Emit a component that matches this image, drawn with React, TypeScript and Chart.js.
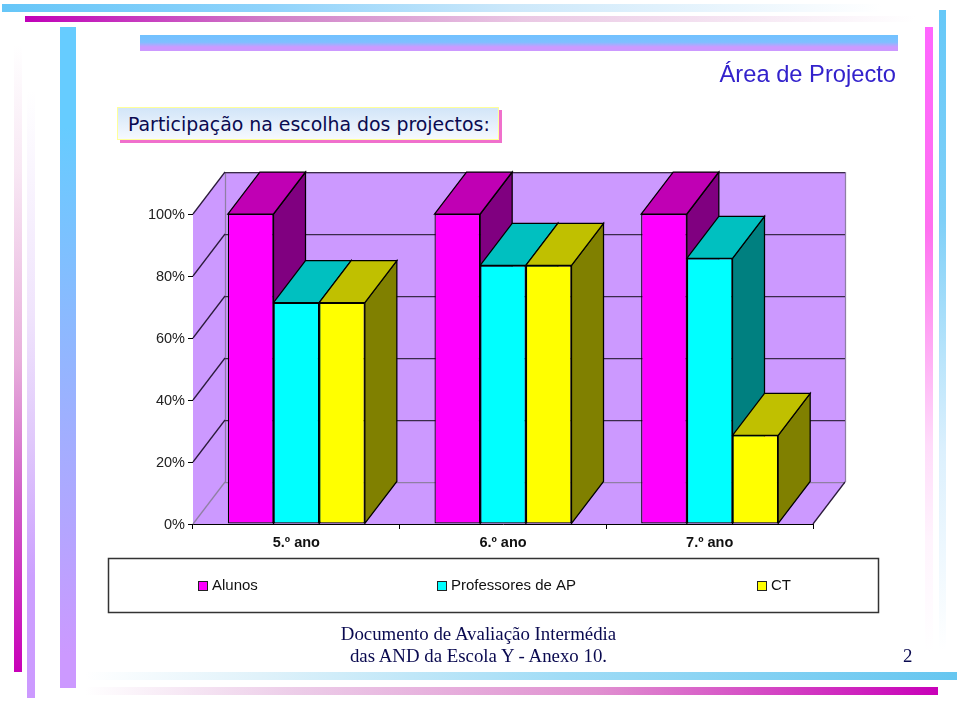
import React, { useEffect, useRef } from "react";
import { Chart, registerables } from "chart.js";

Chart.register(...registerables);

const categories = ["5.º ano", "6.º ano", "7.º ano"];
const alunos = [100, 100, 100];
const professores = [71.4, 83.4, 85.7];
const ct = [71.4, 83.4, 28.6];
const seriesNames = ["Alunos", "Professores de AP", "CT"];

const FRONT = ["#ff00ff", "#00ffff", "#ffff00"];
const TOP = ["#c000b4", "#00c0c0", "#c0c000"];
const SIDE = ["#800080", "#008080", "#808000"];
const LEGEND_X = [198, 437, 757];
const DX = 32;
const DY = 42;
const WALL = "#cc99ff";

const scene3d = {
  id: "scene3d",
  beforeDatasetsDraw(chart: any) {
    const { ctx, chartArea: a, scales } = chart;
    const y = scales.y;
    const poly = (pts: number[][], fill: string | null, stroke?: string) => {
      ctx.beginPath();
      pts.forEach((p, i) => (i ? ctx.lineTo(p[0], p[1]) : ctx.moveTo(p[0], p[1])));
      ctx.closePath();
      if (fill) { ctx.fillStyle = fill; ctx.fill(); }
      if (stroke) { ctx.strokeStyle = stroke; ctx.lineWidth = 1.25; ctx.stroke(); }
    };
    const line = (x0: number, y0: number, x1: number, y1: number, c: string) => {
      ctx.beginPath(); ctx.moveTo(x0, y0); ctx.lineTo(x1, y1);
      ctx.strokeStyle = c; ctx.lineWidth = 1.25; ctx.stroke();
    };
    ctx.save();
    const L = a.left, R = a.right, T = a.top, B = a.bottom;
    const edge = "#8f7fa3";
    poly([[L, B], [L + DX, B - DY], [R + DX, B - DY], [R, B]], WALL);
    poly([[L, B], [L, T], [L + DX, T - DY], [L + DX, B - DY]], WALL);
    poly([[L + DX, T - DY], [R + DX, T - DY], [R + DX, B - DY], [L + DX, B - DY]], WALL);
    line(L + DX + .5, T - DY + .5, R + DX + .5, T - DY + .5, edge);
    line(L + DX + .5, T - DY, L + DX + .5, B - DY, edge);
    line(R + DX + .5, T - DY, R + DX + .5, B - DY, edge);
    line(L + DX, B - DY + .5, R + DX, B - DY + .5, edge);
    line(L, B, L + DX, B - DY, edge);
    line(R, B, R + DX, B - DY, "#2a1a3a");
    y.ticks.forEach((t: any) => {
      if (t.value === 0) return;
      const py = Math.round(y.getPixelForValue(t.value));
      line(L, py, L + DX, py - DY, "#2a1a3a");
      line(L + DX, py - DY + .5, R + DX, py - DY + .5, "#3a2a4a");
    });
    const bars: any[] = [];
    chart.data.datasets.forEach((_: any, di: number) => {
      chart.getDatasetMeta(di).data.forEach((el: any) => bars.push({ el, di }));
    });
    bars.sort((p, q) => p.el.x - q.el.x);
    bars.forEach(({ el, di }) => {
      const l = el.x - el.width / 2, r = el.x + el.width / 2;
      const tp = el.y, bt = el.base;
      poly([[r, bt], [r, tp], [r + DX, tp - DY], [r + DX, bt - DY]], SIDE[di], "#000");
      poly([[l, tp], [r, tp], [r + DX, tp - DY], [l + DX, tp - DY]], TOP[di], "#000");
    });
    ctx.restore();
  },
  afterDraw(chart: any) {
    const { ctx } = chart;
    ctx.save();
    ctx.strokeStyle = "#333";
    ctx.lineWidth = 1.5;
    ctx.fillStyle = "#fff";
    ctx.fillRect(108.5, 558.5, 770, 54);
    ctx.strokeRect(108.5, 558.5, 770, 54);
    ctx.font = '15px "Liberation Sans"';
    ctx.textBaseline = "middle";
    chart.data.datasets.forEach((d: any, i: number) => {
      const x = LEGEND_X[i];
      ctx.fillStyle = d.backgroundColor;
      ctx.fillRect(x + .5, 581.5, 9, 9);
      ctx.strokeStyle = "#222";
      ctx.lineWidth = 1;
      ctx.strokeRect(x + .5, 581.5, 9, 9);
      ctx.fillStyle = "#111";
      ctx.fillText(d.label, x + 14, 586);
    });
    ctx.restore();
  },
};

const box = (s: React.CSSProperties): React.CSSProperties => ({ position: "absolute", ...s });

const decor: React.CSSProperties[] = [
  { left: 2, top: 4, width: 880, height: 8, background: "linear-gradient(90deg,#66c6f8,#8fd3fb 30%,#cce8fa 58%,#fff)" },
  { left: 25, top: 16, width: 890, height: 6, background: "linear-gradient(90deg,#c000b8,#d080c8 28%,#eac8e4 56%,#fff)" },
  { left: 140, top: 35, width: 758, height: 16, background: "linear-gradient(180deg,#70c2ff,#7fbfff 45%,#cc99ff 75%)" },
  { left: 60, top: 27, width: 16, height: 661, background: "linear-gradient(180deg,#66ccff 15%,#cc99ff 95%)" },
  { left: 14, top: 45, width: 8, height: 627, background: "linear-gradient(0deg,#c800b8,#d060c8 28%,#e8b0dc 50%,#f8e8f4 80%,#fff)" },
  { left: 27, top: 90, width: 8, height: 608, background: "linear-gradient(0deg,#cc99ff,#cca0ff 20%,#e0c8fb 42%,#f0e4fc 63%,#fff)" },
  { left: 925, top: 27, width: 8, height: 625, background: "linear-gradient(180deg,#ff66ff,#ff70f0 32%,#ffb0f5 53%,#ffdcfa 67%,#fff4fd 82%,#fff)" },
  { left: 939, top: 10, width: 7, height: 640, background: "linear-gradient(180deg,#66c8f8,#80d0f8 33%,#b8e4fb 54%,#dcf0fd 69%,#fff)" },
  { left: 85, top: 672, width: 872, height: 8, background: "linear-gradient(270deg,#66c6f0,#a0dcf6 45%,#e0f2fa 80%,#fff)" },
  { left: 85, top: 687, width: 853, height: 8, background: "linear-gradient(270deg,#c800b8,#e090d0 40%,#eccce8 75%,#fff)" },
];

export default function App() {
  const ref = useRef<HTMLCanvasElement>(null);
  useEffect(() => {
    const chart = new Chart(ref.current as HTMLCanvasElement, {
      type: "bar",
      data: {
        labels: categories,
        datasets: [alunos, professores, ct].map((v, i) => ({
          label: seriesNames[i],
          data: v,
          backgroundColor: FRONT[i],
          borderColor: "#000",
          borderWidth: 1.25,
          borderSkipped: false,
          categoryPercentage: 0.663,
          barPercentage: 1,
        })),
      },
      options: {
        animation: false,
        responsive: false,
        layout: { padding: { top: 214, left: 0, right: 147, bottom: 0 } },
        plugins: { legend: { display: false }, tooltip: { enabled: false }, title: { display: false } },
        scales: {
          x: {
            afterFit: (s: any) => { s.height = 178; },
            grid: { drawOnChartArea: false, offset: true, color: "#000", tickLength: 5 },
            border: { color: "#000" },
            ticks: { color: "#111", padding: 5, maxRotation: 0, font: { family: "Liberation Sans", size: 14.5, weight: "bold" } },
          },
          y: {
            min: 0,
            max: 100,
            afterFit: (s: any) => { s.width = 193; },
            grid: { drawOnChartArea: false, color: "#000", tickLength: 5 },
            border: { color: "#000" },
            ticks: { stepSize: 20, color: "#222", padding: 3, labelOffset: 1, font: { family: "Liberation Sans", size: 14.5 }, callback: (v: any) => v + "%" },
          },
        },
      } as any,
      plugins: [scene3d],
    });
    return () => chart.destroy();
  }, []);
  return (
    <div style={box({ left: 0, top: 0, width: 960, height: 702, overflow: "hidden", background: "#fff" })}>
      {decor.map((d, i) => <div key={i} style={box(d)} />)}
      <canvas ref={ref} width={960} height={702} style={box({ left: 0, top: 0 })} />
      <div style={box({ left: 120, top: 110, width: 382, height: 33, background: "#f070cc" })} />
      <div style={box({ left: 117, top: 107, width: 370, height: 31, border: "1px solid #ffff99", background: "linear-gradient(180deg,#d2e5f8,#f6f9fe)", color: "#0a0a50", font: '18.9px "DejaVu Sans"', lineHeight: "33px", paddingLeft: 10, boxSizing: "content-box", whiteSpace: "nowrap" })}>Participação na escolha dos projectos:</div>
      <div style={box({ right: 64, top: 61, color: "#3322cc", font: '23.7px "Liberation Sans"', whiteSpace: "nowrap" })}>Área de Projecto</div>
      <div style={box({ left: 240, width: 477, top: 623, textAlign: "center", color: "#0a0a50", font: '18.85px "Liberation Serif"', lineHeight: "22px", whiteSpace: "nowrap" })}>Documento de Avaliação Intermédia<br />das AND da Escola Y - Anexo 10.</div>
      <div style={box({ left: 903, top: 645, color: "#0a0a50", font: '18.85px "Liberation Serif"', lineHeight: "22px" })}>2</div>
    </div>
  );
}
